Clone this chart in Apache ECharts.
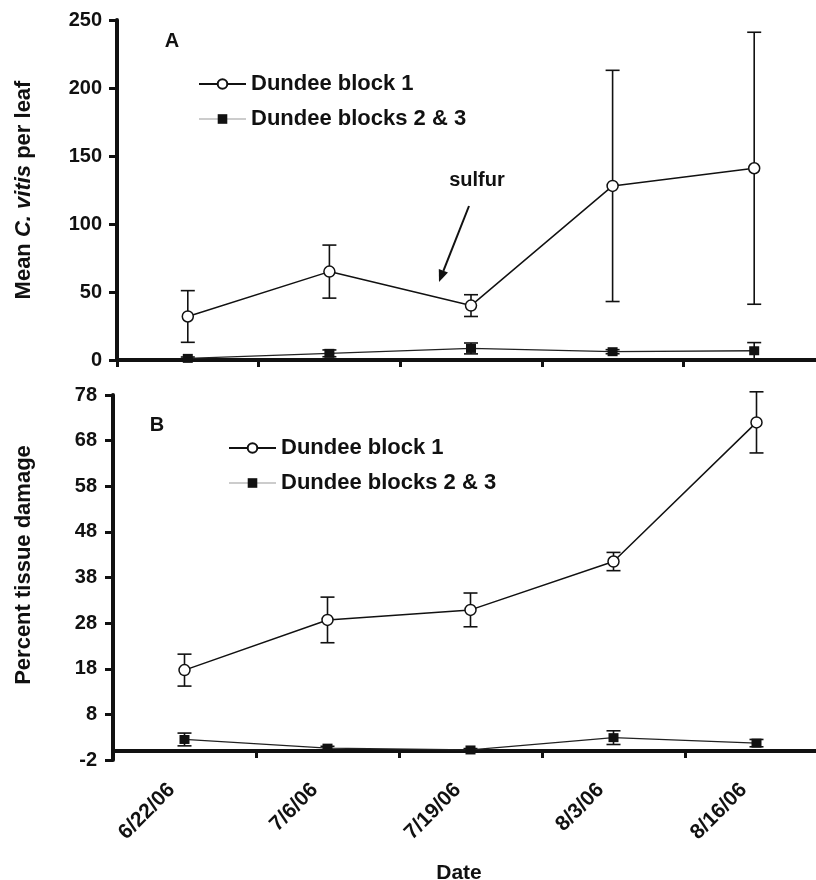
<!DOCTYPE html>
<html>
<head>
    <meta charset="utf-8">
    <title>C. vitis - Dundee</title>
    <script src="https://cdn.jsdelivr.net/npm/echarts@6/dist/echarts.min.js"></script>
    <style>
        html, body { margin: 0; padding: 0; background: #fff; }
        #main { width: 816px; height: 880px; }
    </style>
</head>
<body>
<div id="main"></div>
<script>
    // sampling dates
    var dates = ['6/22/06', '7/6/06', '7/19/06', '8/3/06', '8/16/06'];

    // A: mean C. vitis per leaf (mean, +/- bar)
    var mitesBlock1 = [32, 65, 40, 128, 141];
    var mitesBlock1Err = [19, 19.5, 8, 85, 100];
    var mitesBlocks23 = [1.2, 4.9, 8.5, 6.1, 6.8];
    var mitesBlocks23Err = [1, 2.5, 4, 1.5, 6];

    // B: percent tissue damage
    var damageBlock1 = [17.7, 28.7, 30.9, 41.5, 72];
    var damageBlock1Err = [3.5, 5, 3.7, 2, 6.7];
    var damageBlocks23 = [2.5, 0.6, 0.2, 2.9, 1.7];
    var damageBlocks23Err = [1.4, 0.4, 0.3, 1.5, 0.8];

    // y axis ranges [min, max, step]
    var mitesTicks = [0, 250, 50];
    var damageTicks = [-2, 78, 10];

    var FONT = '"Liberation Sans", Arial, sans-serif';
    var INK = '#111';

    var chart = echarts.init(document.getElementById('main'));

    function errorBars(mean, err, idx) {
        return {
            type: 'custom',
            xAxisIndex: idx,
            yAxisIndex: idx,
            z: 1,
            silent: true,
            data: mean.map(function (m, i) { return [i, m - err[i], m + err[i]]; }),
            encode: {x: 0, y: [1, 2]},
            renderItem: function (params, api) {
                var lo = api.coord([api.value(0), api.value(1)]);
                var hi = api.coord([api.value(0), api.value(2)]);
                var w = 7;
                var st = {stroke: INK, lineWidth: 1.6, fill: null};
                return {
                    type: 'group',
                    children: [
                        {type: 'line', shape: {x1: lo[0], y1: lo[1], x2: hi[0], y2: hi[1]}, style: st},
                        {type: 'line', shape: {x1: lo[0] - w, y1: lo[1], x2: lo[0] + w, y2: lo[1]}, style: st},
                        {type: 'line', shape: {x1: hi[0] - w, y1: hi[1], x2: hi[0] + w, y2: hi[1]}, style: st}
                    ]
                };
            }
        };
    }

    function openLine(data, idx) {
        return {
            name: 'Dundee block 1',
            type: 'line',
            xAxisIndex: idx,
            yAxisIndex: idx,
            z: 3,
            data: data,
            symbol: 'circle',
            symbolSize: 11,
            itemStyle: {color: '#fff', borderColor: INK, borderWidth: 1.5},
            lineStyle: {color: INK, width: 1.5}
        };
    }

    function filledLine(data, idx) {
        return {
            name: 'Dundee blocks 2 & 3',
            type: 'line',
            xAxisIndex: idx,
            yAxisIndex: idx,
            z: 3,
            data: data,
            symbol: 'rect',
            symbolSize: [10, 9],
            itemStyle: {color: INK},
            lineStyle: {color: '#222', width: 1.3}
        };
    }

    function legendAt(left, top) {
        return {
            orient: 'vertical',
            left: left,
            top: top,
            itemWidth: 47,
            itemHeight: 12,
            itemGap: 13,
            selectedMode: false,
            textStyle: {fontFamily: FONT, fontSize: 22, fontWeight: 'bold', color: INK},
            data: [
                {name: 'Dundee block 1'},
                {name: 'Dundee blocks 2 & 3', lineStyle: {color: '#999', width: 1}}
            ]
        };
    }

    var axisLine = {show: true, onZero: true, lineStyle: {color: INK, width: 4}};
    var tickLabel = {fontFamily: FONT, fontSize: 20, fontWeight: 'bold', color: INK};

    var option = {
        backgroundColor: '#fff',
        animation: false,
        grid: [
            {left: 117, top: 20, width: 708, height: 340, outerBoundsMode: 'none', containLabel: false},
            {left: 113, top: 395, width: 715, height: 365, outerBoundsMode: 'none', containLabel: false}
        ],
        legend: [legendAt(193, 68), legendAt(223, 432)],
        xAxis: [
            {
                gridIndex: 0,
                type: 'category',
                data: dates,
                boundaryGap: true,
                axisLine: axisLine,
                axisTick: {show: true, length: 7, lineStyle: {color: INK, width: 3}},
                axisLabel: {show: false},
                splitLine: {show: false}
            },
            {
                gridIndex: 1,
                type: 'category',
                data: dates,
                boundaryGap: true,
                axisLine: axisLine,
                axisTick: {show: true, length: 7, lineStyle: {color: INK, width: 3}},
                axisLabel: {
                    rotate: 45,
                    margin: 14,
                    padding: [0, 18, 0, 0],
                    fontFamily: FONT, fontSize: 21, fontWeight: 'bold', color: INK
                },
                splitLine: {show: false},
                name: 'Date',
                nameLocation: 'middle',
                nameGap: 103,
                nameMoveOverlap: false,
                nameTextStyle: {fontFamily: FONT, fontSize: 21, fontWeight: 'bold', color: INK, padding: [0, 23, 0, 0]}
            }
        ],
        yAxis: [
            {
                gridIndex: 0,
                type: 'value',
                min: mitesTicks[0],
                max: mitesTicks[1],
                interval: mitesTicks[2],
                axisLine: axisLine,
                axisTick: {show: true, length: 8, lineStyle: {color: INK, width: 3}},
                axisLabel: Object.assign({margin: 15}, tickLabel),
                splitLine: {show: false},
                name: '{a|Mean }{b|C. vitis}{a| per leaf}',
                nameLocation: 'middle',
                nameGap: 82,
                nameMoveOverlap: false,
                nameTextStyle: {
                    fontFamily: FONT, fontSize: 22, fontWeight: 'bold', color: INK,
                    rich: {
                        a: {fontFamily: FONT, fontSize: 22, fontWeight: 'bold', color: INK},
                        b: {fontFamily: FONT, fontSize: 22, fontWeight: 'bold', fontStyle: 'italic', color: INK}
                    }
                }
            },
            {
                gridIndex: 1,
                type: 'value',
                min: damageTicks[0],
                max: damageTicks[1],
                interval: damageTicks[2],
                axisLine: axisLine,
                axisTick: {show: true, length: 8, lineStyle: {color: INK, width: 3}},
                axisLabel: Object.assign({margin: 16}, tickLabel),
                splitLine: {show: false},
                name: 'Percent tissue damage',
                nameLocation: 'middle',
                nameGap: 78,
                nameMoveOverlap: false,
                nameTextStyle: {fontFamily: FONT, fontSize: 22, fontWeight: 'bold', color: INK, padding: [0, 0, 0, 25]}
            }
        ],
        series: [
            errorBars(mitesBlock1, mitesBlock1Err, 0),
            errorBars(mitesBlocks23, mitesBlocks23Err, 0),
            openLine(mitesBlock1, 0),
            filledLine(mitesBlocks23, 0),
            errorBars(damageBlock1, damageBlock1Err, 1),
            errorBars(damageBlocks23, damageBlocks23Err, 1),
            openLine(damageBlock1, 1),
            filledLine(damageBlocks23, 1)
        ],
        graphic: [
            {type: 'text', x: 172, y: 41, style: {text: 'A', font: 'bold 20px ' + FONT, fill: INK, align: 'center', verticalAlign: 'middle'}},
            {type: 'text', x: 157, y: 425, style: {text: 'B', font: 'bold 20px ' + FONT, fill: INK, align: 'center', verticalAlign: 'middle'}},
            {type: 'text', x: 477, y: 180, style: {text: 'sulfur', font: 'bold 20px ' + FONT, fill: INK, align: 'center', verticalAlign: 'middle'}},
            // arrow pointing at the 7/19 dip
            {type: 'line', shape: {x1: 469, y1: 206, x2: 443.4, y2: 270.8}, style: {stroke: INK, lineWidth: 2}},
            {type: 'polygon', shape: {points: [[439, 282], [448, 272.6], [438.8, 269]]}, style: {fill: INK}}
        ]
    };

    chart.setOption(option);
</script>
</body>
</html>
